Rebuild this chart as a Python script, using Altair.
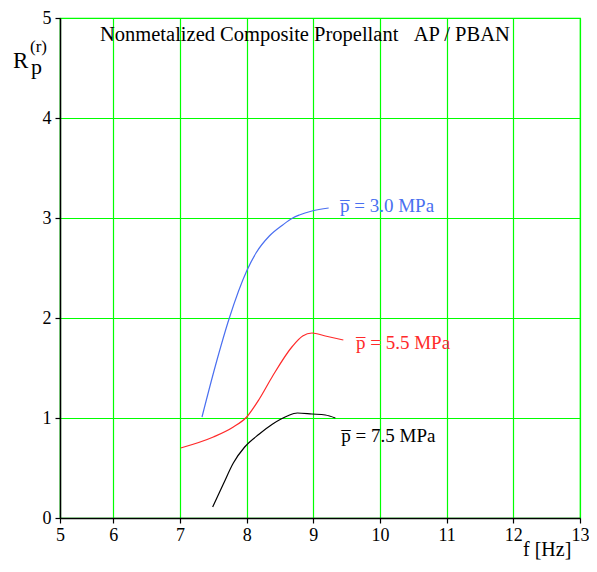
import altair as alt
import pandas as pd

# ---- data ----
blue_x = [7.33, 7.53, 7.74, 8.0, 8.14, 8.34, 8.54, 8.69, 8.79, 8.98, 9.23]
blue_y = [1.01, 1.52, 2.00, 2.47, 2.65, 2.82, 2.93, 3.00, 3.03, 3.07, 3.10]

red_x = [7.01, 7.50, 7.80, 8.0, 8.19, 8.39, 8.69, 8.84, 8.98, 9.18, 9.45]
red_y = [0.70, 0.81, 0.91, 1.01, 1.19, 1.42, 1.72, 1.82, 1.85, 1.82, 1.78]

black_x = [7.49, 7.65, 7.80, 7.97, 8.19, 8.39, 8.61, 8.76, 8.98, 9.18, 9.33]
black_y = [0.11, 0.34, 0.55, 0.71, 0.84, 0.94, 1.02, 1.05, 1.04, 1.03, 1.00]

series_names = ["3.0", "5.5", "7.5"]
series_colors = ["#4a6ff0", "#ff2a2a", "#000000"]
label_texts = ["p\u0305 = 3.0 MPa", "p\u0305 = 5.5 MPa", "p\u0305 = 7.5 MPa"]
label_x = [9.40, 9.64, 9.42]
label_y = [3.12, 1.75, 0.82]

x_ticks = [5.2, 6, 7, 8, 9, 10, 11, 12, 13]
y_ticks = [0, 1, 2, 3, 4, 5]

title_text = "Nonmetalized Composite Propellant\u00a0\u00a0\u00a0AP / PBAN"

rows = []
for name, xs, ys in zip(series_names, [blue_x, red_x, black_x], [blue_y, red_y, black_y]):
    for i, (a, b) in enumerate(zip(xs, ys)):
        rows.append({"series": name, "f": a, "R": b, "order": i})
df = pd.DataFrame(rows)

lab = pd.DataFrame({"series": series_names, "text": label_texts, "x": label_x, "y": label_y})

FONT = "Liberation Serif"
xscale = alt.Scale(domain=[5.2, 13], nice=False, zero=False)
yscale = alt.Scale(domain=[0, 5], nice=False)
cscale = alt.Scale(domain=series_names, range=series_colors)

lines = alt.Chart(df).mark_line(strokeWidth=1.2, interpolate="monotone").encode(
    x=alt.X("f:Q", scale=xscale,
            axis=alt.Axis(values=x_ticks, labelExpr="format(round(datum.value), 'd')", title=None,
                          labelFont=FONT, labelFontSize=18, labelPadding=3, tickSize=5,
                          labelFlush=False)),
    y=alt.Y("R:Q", scale=yscale,
            axis=alt.Axis(values=y_ticks, format="d", title=None, labelFont=FONT,
                          labelFontSize=18, labelPadding=4, tickSize=5)),
    color=alt.Color("series:N", scale=cscale, legend=None),
    detail="series:N",
    order="order:Q",
)

labels = alt.Chart(lab).mark_text(align="left", baseline="middle", font=FONT, fontSize=19).encode(
    x=alt.X("x:Q", scale=xscale),
    y=alt.Y("y:Q", scale=yscale),
    text="text:N",
    color=alt.Color("series:N", scale=cscale, legend=None),
)

title = alt.Chart(pd.DataFrame({"t": [title_text]})).mark_text(
    align="left", baseline="middle", font=FONT, fontSize=20.5, color="black"
).encode(x=alt.value(40), y=alt.value(17), text="t:N")

ylab_R = alt.Chart(pd.DataFrame({"t": ["R"]})).mark_text(
    align="left", baseline="alphabetic", font=FONT, fontSize=23, color="black"
).encode(x=alt.value(-47), y=alt.value(50), text="t:N")
ylab_p = alt.Chart(pd.DataFrame({"t": ["p"]})).mark_text(
    align="left", baseline="alphabetic", font=FONT, fontSize=22, color="black"
).encode(x=alt.value(-29), y=alt.value(56), text="t:N")
ylab_r = alt.Chart(pd.DataFrame({"t": ["(r)"]})).mark_text(
    align="left", baseline="alphabetic", font=FONT, fontSize=17, color="black"
).encode(x=alt.value(-30), y=alt.value(34), text="t:N")

xlab = alt.Chart(pd.DataFrame({"t": ["f [Hz]"]})).mark_text(
    align="left", baseline="alphabetic", font=FONT, fontSize=20, color="black"
).encode(x=alt.value(463), y=alt.value(538), text="t:N")

chart = alt.layer(lines, labels, title, ylab_R, ylab_p, ylab_r, xlab).properties(
    width=520, height=500,
    autosize=alt.AutoSizeParams(type="none"),
    padding={"left": 52, "top": 10, "right": 9, "bottom": 42},
    background="white",
).configure_view(stroke="#00ff00", strokeWidth=1.2).configure_axis(
    grid=True, gridColor="#00ff00", gridWidth=1.2, gridOpacity=1,
    domainColor="black", domainWidth=1.5, tickColor="black", tickWidth=1.2,
    labelFont=FONT, labelColor="black",
)

chart.save("out.html", embed_options={"renderer": "svg", "actions": False})
